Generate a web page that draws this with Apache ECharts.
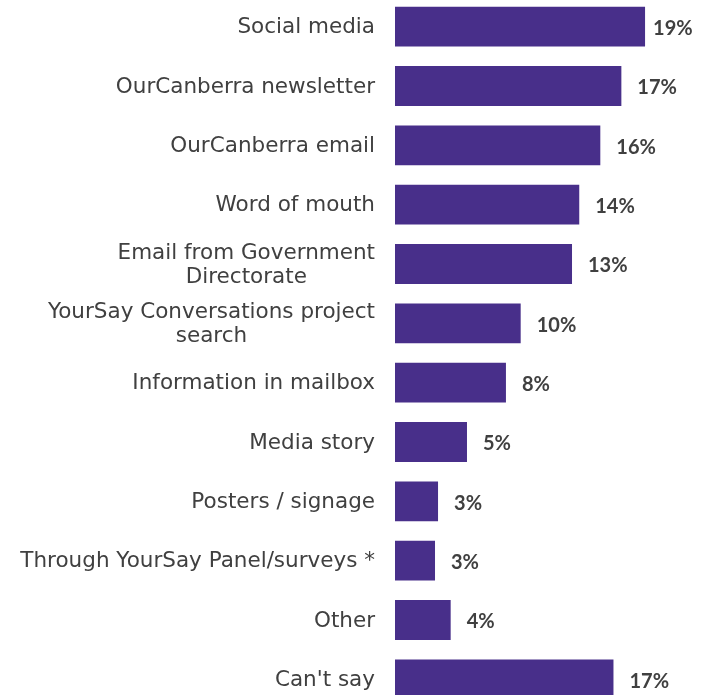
<!DOCTYPE html>
<html>
<head>
<meta charset="utf-8">
<script src="https://cdn.jsdelivr.net/npm/echarts@6/dist/echarts.min.js"></script>
<style>
html,body{margin:0;padding:0;background:#fff;}
#chart{width:707px;height:695px;}
</style>
</head>
<body>
<div id="chart"></div>
<script>
const categories = [
  'Social media',
  'OurCanberra newsletter',
  'OurCanberra email',
  'Word of mouth',
  'Email from Government\nDirectorate',
  'YourSay Conversations project\nsearch',
  'Information in mailbox',
  'Media story',
  'Posters / signage',
  'Through YourSay Panel/surveys *',
  'Other',
  "Can't say"
];
const values = [19.0, 17.2, 15.6, 14.0, 13.45, 9.55, 8.43, 5.47, 3.27, 3.04, 4.23, 16.6];

const chart = echarts.init(document.getElementById('chart'), null, {renderer: 'canvas'});
const seriesData = values.map((v, i) => ({
  value: v,
  label: { distance: i === 0 ? 8 : 16 }
}));

chart.setOption({
  animation: false,
  backgroundColor: '#ffffff',
  grid: { left: 395, width: 302.7, top: -3, height: 712, containLabel: false, outerBoundsMode: 'none' },
  xAxis: {
    type: 'value', min: 0, max: 23, show: false
  },
  yAxis: {
    type: 'category',
    data: categories,
    inverse: true,
    axisLine: { show: false },
    axisTick: { show: false },
    splitLine: { show: false },
    axisLabel: {
      margin: 20,
      align: 'right',
      color: '#404040',
      fontFamily: 'DejaVu Sans',
      fontSize: 21.5,
      lineHeight: 24,
      formatter: function (val) {
        return val.split('\n').map(s => '{c|' + s + '}').join('\n');
      },
      rich: {
        c: { align: 'center', color: '#404040', fontFamily: 'DejaVu Sans', fontSize: 21.5, lineHeight: 24, padding: [2, 0, 0, 0] }
      }
    }
  },
  series: [{
    type: 'bar',
    data: seriesData,
    barCategoryGap: '33%',
    itemStyle: { color: '#482F8A' },
    label: {
      show: true,
      position: 'right',
      color: '#404040',
      fontFamily: 'Lato',
      fontWeight: 'bold',
      fontSize: 20,
      offset: [0, 2],
      formatter: p => Math.round(p.value) + '%'
    }
  }]
});
</script>
</body>
</html>
